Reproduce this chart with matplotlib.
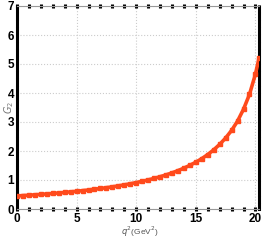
import numpy as np
import matplotlib
matplotlib.use("agg")
from matplotlib import pyplot as plt
from matplotlib.ticker import MultipleLocator

plt.rcParams['font.family'] = ['Liberation Sans', 'DejaVu Sans']

# form factor G2 vs q^2 (GeV^2)
q2 = [0, 0.5, 1, 1.5, 2, 2.5, 3, 3.5, 4, 4.5, 5, 5.5, 6, 6.5, 7, 7.5, 8, 8.5,
      9, 9.5, 10, 10.5, 11, 11.5, 12, 12.5, 13, 13.5, 14, 14.5, 15, 15.5, 16,
      16.5, 17, 17.5, 18, 18.5, 19, 19.5, 20, 20.3]
g2 = [0.450, 0.463, 0.476, 0.490, 0.504, 0.520, 0.536, 0.553, 0.572, 0.591,
      0.611, 0.633, 0.656, 0.681, 0.707, 0.735, 0.765, 0.798, 0.833, 0.870,
      0.911, 0.955, 1.003, 1.056, 1.113, 1.176, 1.246, 1.323, 1.409, 1.506,
      1.614, 1.737, 1.878, 2.040, 2.228, 2.448, 2.710, 3.030, 3.440, 3.950,
      4.650, 5.200]

fig = plt.figure(figsize=(2.62, 2.45), dpi=100)
ax = fig.add_axes([17/262, 36/245, 242/262, 203/245])

ax.plot(q2, g2, '-s', color='#ff4a1c', lw=2.6, ms=3.2, mec='#ff4a1c', zorder=3)

ax.set_xlim(0, 20.3)
ax.set_ylim(0, 7)
ax.xaxis.set_major_locator(MultipleLocator(5))
ax.xaxis.set_minor_locator(MultipleLocator(1))
ax.yaxis.set_major_locator(MultipleLocator(1))

ax.grid(True, color='#cccccc', ls=':', lw=0.8)

for s in ['left', 'right']:
    ax.spines[s].set_color('black')
    ax.spines[s].set_linewidth(2.2)
    ax.spines[s].set_linestyle((0, (1.5, 0.9)))
for s in ['top', 'bottom']:
    ax.spines[s].set_color('#999999')
    ax.spines[s].set_linewidth(0.8)

ax.tick_params(axis='x', which='both', top=True, bottom=True, direction='inout',
               length=2.2, width=2.2, color='black', labelsize=8.5, pad=2)
ax.tick_params(axis='y', which='both', length=0, labelsize=8.5, pad=2)
for lab in ax.get_xticklabels() + ax.get_yticklabels():
    lab.set_fontweight('bold')

fig.text(2/262, 0.56, r'$G_2$', rotation=90, ha='left', va='center',
         color='#777777', fontsize=7)
fig.text(0.535, 0.025, r'$q^2$' + '(GeV$^2$)', ha='center', va='bottom',
         fontsize=6, color='#555555')

fig.savefig('out.png', dpi=100)
